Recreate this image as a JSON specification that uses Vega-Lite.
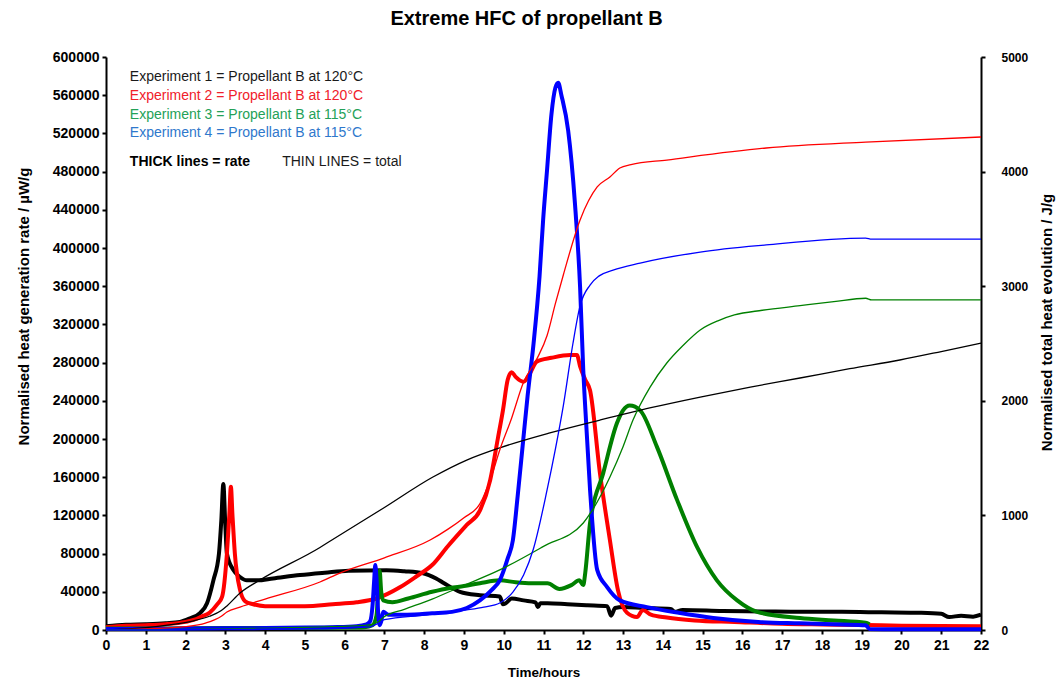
{
"$schema": "https://vega.github.io/schema/vega-lite/v6.json",
"autosize": "none",
"width": 875,
"height": 573,
"padding": {"left": 106, "top": 57, "right": 83, "bottom": 54},
"background": "white",
"title": {"text": "Extreme HFC of propellant B", "fontSize": 20, "fontWeight": "bold", "font": "Liberation Sans", "color": "#000000", "offset": 21, "anchor": "middle", "dx": -17},
"config": {
  "view": {"stroke": null},
  "axis": {"grid": false, "domainColor": "#000000", "domainWidth": 2, "tickColor": "#000000", "tickWidth": 2, "tickSize": 4, "labelColor": "#000000", "titleColor": "#000000", "labelFont": "Liberation Sans", "titleFont": "Liberation Sans", "labelFontWeight": "bold", "titleFontWeight": "bold"}
},
"datasets": {
"rate": [
{"e":"1","t":0,"r":4000},{"e":"1","t":0.5,"r":5500},{"e":"1","t":1,"r":6000},{"e":"1","t":1.5,"r":7000},{"e":"1","t":1.86,"r":8400},{"e":"1","t":2.1,"r":12000},{"e":"1","t":2.37,"r":18000},{"e":"1","t":2.54,"r":28000},{"e":"1","t":2.7,"r":52000},{"e":"1","t":2.84,"r":80000},{"e":"1","t":2.9,"r":115000},{"e":"1","t":2.95,"r":153000},{"e":"1","t":3.0,"r":110000},{"e":"1","t":3.04,"r":80000},{"e":"1","t":3.2,"r":63000},{"e":"1","t":3.37,"r":55500},{"e":"1","t":3.54,"r":52000},{"e":"1","t":3.8,"r":52000},{"e":"1","t":4.2,"r":54000},{"e":"1","t":4.88,"r":57600},{"e":"1","t":5.5,"r":60000},{"e":"1","t":6.1,"r":62000},{"e":"1","t":7.05,"r":62500},{"e":"1","t":7.5,"r":61500},{"e":"1","t":7.97,"r":59500},{"e":"1","t":8.3,"r":54000},{"e":"1","t":8.5,"r":49000},{"e":"1","t":8.9,"r":40000},{"e":"1","t":9.4,"r":36500},{"e":"1","t":9.9,"r":35000},{"e":"1","t":9.98,"r":27000},{"e":"1","t":10.05,"r":28000},{"e":"1","t":10.2,"r":33000},{"e":"1","t":10.5,"r":31000},{"e":"1","t":10.8,"r":29000},{"e":"1","t":10.86,"r":24000},{"e":"1","t":10.92,"r":28000},{"e":"1","t":11.1,"r":28000},{"e":"1","t":11.6,"r":27000},{"e":"1","t":12.1,"r":26000},{"e":"1","t":12.6,"r":25000},{"e":"1","t":12.7,"r":15000},{"e":"1","t":12.8,"r":23000},{"e":"1","t":13.0,"r":24000},{"e":"1","t":13.5,"r":23000},{"e":"1","t":14.2,"r":22000},{"e":"1","t":14.3,"r":19000},{"e":"1","t":14.5,"r":21000},{"e":"1","t":15.5,"r":20000},{"e":"1","t":16.5,"r":19500},{"e":"1","t":17.5,"r":19000},{"e":"1","t":18.5,"r":19000},{"e":"1","t":19.5,"r":18500},{"e":"1","t":20.5,"r":18000},{"e":"1","t":21.0,"r":17000},{"e":"1","t":21.2,"r":13500},{"e":"1","t":21.5,"r":15000},{"e":"1","t":21.8,"r":14000},{"e":"1","t":22,"r":16000},
{"e":"2","t":0,"r":3000},{"e":"2","t":0.5,"r":4500},{"e":"2","t":1,"r":5000},{"e":"2","t":1.5,"r":6000},{"e":"2","t":2.0,"r":8500},{"e":"2","t":2.2,"r":10500},{"e":"2","t":2.4,"r":14000},{"e":"2","t":2.6,"r":18000},{"e":"2","t":2.8,"r":27000},{"e":"2","t":2.92,"r":35000},{"e":"2","t":3.04,"r":80000},{"e":"2","t":3.1,"r":120000},{"e":"2","t":3.14,"r":150000},{"e":"2","t":3.18,"r":120000},{"e":"2","t":3.24,"r":80000},{"e":"2","t":3.37,"r":42000},{"e":"2","t":3.5,"r":30000},{"e":"2","t":3.7,"r":27000},{"e":"2","t":4.0,"r":25000},{"e":"2","t":5.0,"r":25000},{"e":"2","t":5.7,"r":27000},{"e":"2","t":6.3,"r":29000},{"e":"2","t":6.8,"r":33000},{"e":"2","t":7.4,"r":45000},{"e":"2","t":7.8,"r":56000},{"e":"2","t":8.2,"r":68000},{"e":"2","t":8.6,"r":88000},{"e":"2","t":9.07,"r":110000},{"e":"2","t":9.4,"r":125000},{"e":"2","t":9.66,"r":157000},{"e":"2","t":9.85,"r":200000},{"e":"2","t":9.98,"r":230000},{"e":"2","t":10.1,"r":262000},{"e":"2","t":10.2,"r":270000},{"e":"2","t":10.3,"r":265000},{"e":"2","t":10.5,"r":260000},{"e":"2","t":10.65,"r":268000},{"e":"2","t":10.83,"r":281000},{"e":"2","t":11.2,"r":285000},{"e":"2","t":11.67,"r":288000},{"e":"2","t":11.84,"r":288000},{"e":"2","t":11.92,"r":276000},{"e":"2","t":12.05,"r":262000},{"e":"2","t":12.17,"r":251000},{"e":"2","t":12.42,"r":164000},{"e":"2","t":12.67,"r":94000},{"e":"2","t":12.87,"r":42000},{"e":"2","t":13.1,"r":18000},{"e":"2","t":13.35,"r":13600},{"e":"2","t":13.5,"r":21000},{"e":"2","t":13.7,"r":16000},{"e":"2","t":14.1,"r":13000},{"e":"2","t":14.8,"r":10000},{"e":"2","t":15.8,"r":8400},{"e":"2","t":17,"r":6500},{"e":"2","t":18,"r":5800},{"e":"2","t":19.1,"r":5200},{"e":"2","t":20,"r":4500},{"e":"2","t":22,"r":4000},
{"e":"3","t":0,"r":1500},{"e":"3","t":1,"r":1500},{"e":"3","t":2,"r":1800},{"e":"3","t":3,"r":2000},{"e":"3","t":4,"r":2000},{"e":"3","t":5,"r":2200},{"e":"3","t":6,"r":2500},{"e":"3","t":6.5,"r":3000},{"e":"3","t":6.7,"r":5000},{"e":"3","t":6.8,"r":15000},{"e":"3","t":6.85,"r":45000},{"e":"3","t":6.88,"r":62000},{"e":"3","t":6.92,"r":40000},{"e":"3","t":6.97,"r":31000},{"e":"3","t":7.2,"r":29000},{"e":"3","t":7.6,"r":33000},{"e":"3","t":8.2,"r":40000},{"e":"3","t":8.65,"r":44000},{"e":"3","t":9.0,"r":46000},{"e":"3","t":9.4,"r":49000},{"e":"3","t":9.9,"r":52000},{"e":"3","t":10.3,"r":50000},{"e":"3","t":10.7,"r":49000},{"e":"3","t":11.1,"r":49000},{"e":"3","t":11.4,"r":43000},{"e":"3","t":11.7,"r":47000},{"e":"3","t":11.9,"r":52000},{"e":"3","t":12.0,"r":47000},{"e":"3","t":12.05,"r":60000},{"e":"3","t":12.17,"r":112000},{"e":"3","t":12.5,"r":164000},{"e":"3","t":12.85,"r":217000},{"e":"3","t":13.0,"r":230000},{"e":"3","t":13.17,"r":235000},{"e":"3","t":13.43,"r":230000},{"e":"3","t":13.85,"r":192000},{"e":"3","t":14.36,"r":136000},{"e":"3","t":14.86,"r":87000},{"e":"3","t":15.36,"r":52000},{"e":"3","t":15.87,"r":31000},{"e":"3","t":16.37,"r":19000},{"e":"3","t":17.45,"r":12500},{"e":"3","t":18.3,"r":10000},{"e":"3","t":19.1,"r":7500},{"e":"3","t":19.2,"r":6000},
{"e":"4","t":0,"r":1000},{"e":"4","t":1,"r":1200},{"e":"4","t":2,"r":1500},{"e":"4","t":3,"r":1800},{"e":"4","t":4,"r":2000},{"e":"4","t":5,"r":2500},{"e":"4","t":5.7,"r":3000},{"e":"4","t":6.3,"r":4000},{"e":"4","t":6.55,"r":6000},{"e":"4","t":6.64,"r":9000},{"e":"4","t":6.7,"r":25000},{"e":"4","t":6.74,"r":50000},{"e":"4","t":6.77,"r":68000},{"e":"4","t":6.8,"r":55000},{"e":"4","t":6.84,"r":20000},{"e":"4","t":6.88,"r":5000},{"e":"4","t":6.92,"r":9000},{"e":"4","t":6.97,"r":19000},{"e":"4","t":7.1,"r":16000},{"e":"4","t":7.57,"r":16000},{"e":"4","t":8.2,"r":17500},{"e":"4","t":8.7,"r":19000},{"e":"4","t":9.07,"r":23000},{"e":"4","t":9.4,"r":31000},{"e":"4","t":9.7,"r":42000},{"e":"4","t":9.9,"r":52000},{"e":"4","t":10.1,"r":75000},{"e":"4","t":10.23,"r":94000},{"e":"4","t":10.35,"r":140000},{"e":"4","t":10.49,"r":199000},{"e":"4","t":10.6,"r":245000},{"e":"4","t":10.75,"r":300000},{"e":"4","t":10.9,"r":370000},{"e":"4","t":10.99,"r":429000},{"e":"4","t":11.09,"r":482000},{"e":"4","t":11.2,"r":540000},{"e":"4","t":11.3,"r":568000},{"e":"4","t":11.37,"r":573000},{"e":"4","t":11.45,"r":560000},{"e":"4","t":11.62,"r":523000},{"e":"4","t":11.79,"r":447000},{"e":"4","t":11.92,"r":359000},{"e":"4","t":12.0,"r":272000},{"e":"4","t":12.04,"r":240000},{"e":"4","t":12.17,"r":147000},{"e":"4","t":12.35,"r":63000},{"e":"4","t":12.6,"r":45000},{"e":"4","t":12.92,"r":31000},{"e":"4","t":13.6,"r":24000},{"e":"4","t":14.4,"r":18000},{"e":"4","t":15.27,"r":12600},{"e":"4","t":16.4,"r":8400},{"e":"4","t":17.45,"r":7000},{"e":"4","t":18.5,"r":5800},{"e":"4","t":19.1,"r":5000},{"e":"4","t":19.2,"r":1000},{"e":"4","t":20,"r":800},{"e":"4","t":22,"r":800}
],
"total": [
{"e":"1","t":0,"j":0},{"e":"1","t":1,"j":20},{"e":"1","t":1.5,"j":40},{"e":"1","t":2.2,"j":80},{"e":"1","t":2.6,"j":120},{"e":"1","t":2.9,"j":170},{"e":"1","t":3.04,"j":210},{"e":"1","t":3.37,"j":323},{"e":"1","t":3.87,"j":436},{"e":"1","t":5.38,"j":720},{"e":"1","t":5.7,"j":790},{"e":"1","t":6.96,"j":1060},{"e":"1","t":8.22,"j":1335},{"e":"1","t":9.07,"j":1483},{"e":"1","t":9.9,"j":1590},{"e":"1","t":11.16,"j":1720},{"e":"1","t":12.42,"j":1832},{"e":"1","t":13.7,"j":1940},{"e":"1","t":14.94,"j":2033},{"e":"1","t":16.2,"j":2120},{"e":"1","t":17.45,"j":2199},{"e":"1","t":18.7,"j":2280},{"e":"1","t":19.96,"j":2356},{"e":"1","t":21,"j":2430},{"e":"1","t":22,"j":2504},
{"e":"2","t":0,"j":0},{"e":"2","t":1,"j":10},{"e":"2","t":2,"j":30},{"e":"2","t":2.5,"j":60},{"e":"2","t":2.9,"j":120},{"e":"2","t":3.04,"j":157},{"e":"2","t":3.37,"j":200},{"e":"2","t":4,"j":270},{"e":"2","t":5.38,"j":419},{"e":"2","t":5.88,"j":497},{"e":"2","t":7,"j":630},{"e":"2","t":8.15,"j":785},{"e":"2","t":8.6,"j":880},{"e":"2","t":9.0,"j":980},{"e":"2","t":9.4,"j":1100},{"e":"2","t":9.7,"j":1350},{"e":"2","t":9.9,"j":1570},{"e":"2","t":10.2,"j":1850},{"e":"2","t":10.49,"j":2155},{"e":"2","t":10.84,"j":2370},{"e":"2","t":11.09,"j":2570},{"e":"2","t":11.3,"j":2850},{"e":"2","t":11.5,"j":3100},{"e":"2","t":11.92,"j":3578},{"e":"2","t":12.35,"j":3866},{"e":"2","t":12.67,"j":3953},{"e":"2","t":12.92,"j":4031},{"e":"2","t":13.2,"j":4060},{"e":"2","t":14.1,"j":4101},{"e":"2","t":16.6,"j":4206},{"e":"2","t":19.1,"j":4258},{"e":"2","t":22,"j":4302},
{"e":"3","t":0,"j":0},{"e":"3","t":3,"j":10},{"e":"3","t":6.5,"j":40},{"e":"3","t":6.85,"j":70},{"e":"3","t":6.97,"j":110},{"e":"3","t":7.5,"j":180},{"e":"3","t":8.2,"j":270},{"e":"3","t":8.9,"j":375},{"e":"3","t":9.9,"j":524},{"e":"3","t":11,"j":730},{"e":"3","t":12,"j":934},{"e":"3","t":12.2,"j":1030},{"e":"3","t":12.45,"j":1180},{"e":"3","t":12.67,"j":1335},{"e":"3","t":13.0,"j":1600},{"e":"3","t":13.25,"j":1832},{"e":"3","t":13.68,"j":2120},{"e":"3","t":14.1,"j":2330},{"e":"3","t":14.5,"j":2480},{"e":"3","t":14.94,"j":2618},{"e":"3","t":15.4,"j":2700},{"e":"3","t":15.8,"j":2749},{"e":"3","t":16.5,"j":2790},{"e":"3","t":17.45,"j":2830},{"e":"3","t":18.3,"j":2865},{"e":"3","t":19.1,"j":2895},{"e":"3","t":19.25,"j":2880},{"e":"3","t":22,"j":2880},
{"e":"4","t":0,"j":0},{"e":"4","t":3,"j":5},{"e":"4","t":6.6,"j":25},{"e":"4","t":6.85,"j":60},{"e":"4","t":7.0,"j":90},{"e":"4","t":8,"j":130},{"e":"4","t":9.07,"j":175},{"e":"4","t":9.5,"j":200},{"e":"4","t":9.9,"j":236},{"e":"4","t":10.23,"j":330},{"e":"4","t":10.5,"j":480},{"e":"4","t":10.74,"j":700},{"e":"4","t":11.09,"j":1222},{"e":"4","t":11.3,"j":1580},{"e":"4","t":11.5,"j":1960},{"e":"4","t":11.74,"j":2500},{"e":"4","t":11.92,"j":2830},{"e":"4","t":12.17,"j":3010},{"e":"4","t":12.4,"j":3090},{"e":"4","t":12.75,"j":3141},{"e":"4","t":13.43,"j":3202},{"e":"4","t":14.94,"j":3298},{"e":"4","t":16.6,"j":3360},{"e":"4","t":19.1,"j":3420},{"e":"4","t":19.25,"j":3410},{"e":"4","t":22,"j":3410}
],
"notes": [
{"t":0.6,"v":579000,"label":"Experiment 1 = Propellant B at 120°C","c":"#1a1a1a"},
{"t":0.6,"v":559200,"label":"Experiment 2 = Propellant B at 120°C","c":"#f0202a"},
{"t":0.6,"v":539300,"label":"Experiment 3 = Propellant B at 115°C","c":"#24a157"},
{"t":0.6,"v":520400,"label":"Experiment 4 = Propellant B at 115°C","c":"#2f78cc"},
{"t":4.43,"v":490000,"label":"THIN LINES = total","c":"#1a1a1a"}
],
"bold": [
{"t":0.6,"v":490000,"label":"THICK lines = rate"}
]
},
"encoding": {
  "x": {"field": "t", "type": "quantitative", "scale": {"domain": [0, 22], "nice": false},
        "axis": {"title": "Time/hours", "values": [0,1,2,3,4,5,6,7,8,9,10,11,12,13,14,15,16,17,18,19,20,21,22], "labelFontSize": 14, "titleFontSize": 13.5, "labelPadding": 4, "titlePadding": 13, "labelFlush": false}}
},
"layer": [
  {"data": {"name": "rate"},
   "mark": {"type": "line", "strokeWidth": 4, "interpolate": "monotone"},
   "encoding": {
     "y": {"field": "r", "type": "quantitative", "scale": {"domain": [0, 600000], "nice": false},
           "axis": {"title": "Normalised heat generation rate /  µW/g", "orient": "left", "format": "d", "values": [0,40000,80000,120000,160000,200000,240000,280000,320000,360000,400000,440000,480000,520000,560000,600000], "labelFontSize": 14, "titleFontSize": 15, "labelPadding": 3, "titlePadding": 21, "titleY": 249}},
     "color": {"field": "e", "type": "nominal", "scale": {"domain": ["1","2","3","4"], "range": ["#000000","#ff0000","#008000","#0000ff"]}, "legend": null}
   }},
  {"data": {"name": "total"},
   "mark": {"type": "line", "strokeWidth": 1.3, "interpolate": "monotone"},
   "encoding": {
     "y": {"field": "j", "type": "quantitative", "scale": {"domain": [0, 5000], "nice": false},
           "axis": {"title": "Normalised total heat evolution /  J/g", "orient": "right", "titleAngle": 270, "format": "d", "values": [0,1000,2000,3000,4000,5000], "labelFontSize": 12, "titleFontSize": 15, "labelPadding": 16, "titlePadding": 27, "titleY": 265}},
     "color": {"field": "e", "type": "nominal", "scale": {"domain": ["1","2","3","4"], "range": ["#000000","#ff0000","#008000","#0000ff"]}, "legend": null}
   }},
  {"data": {"name": "notes"},
   "mark": {"type": "text", "align": "left", "baseline": "middle", "font": "Liberation Sans", "fontSize": 14},
   "encoding": {
     "y": {"field": "v", "type": "quantitative", "scale": {"domain": [0, 600000], "nice": false}, "axis": null},
     "text": {"field": "label"},
     "color": {"field": "c", "type": "nominal", "scale": null}
   }},
  {"data": {"name": "bold"},
   "mark": {"type": "text", "align": "left", "baseline": "middle", "font": "Liberation Sans", "fontSize": 14, "fontWeight": "bold", "color": "#000000"},
   "encoding": {
     "y": {"field": "v", "type": "quantitative", "scale": {"domain": [0, 600000], "nice": false}, "axis": null},
     "text": {"field": "label"}
   }}
],
"resolve": {"scale": {"y": "independent", "color": "independent"}}
}
